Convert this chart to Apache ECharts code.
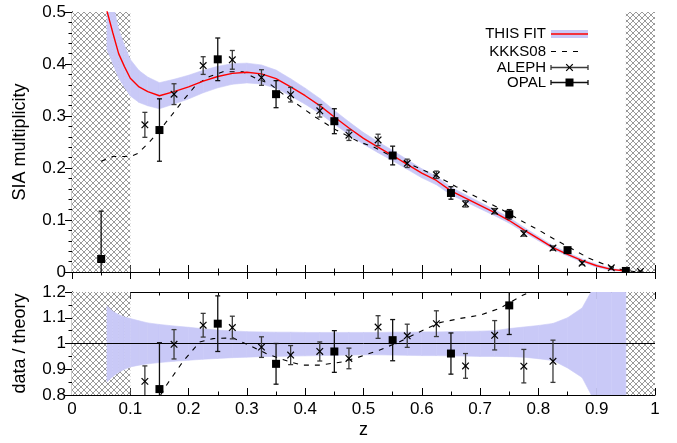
<!DOCTYPE html>
<html><head><meta charset="utf-8">
<script src="https://cdn.jsdelivr.net/npm/echarts@6/dist/echarts.min.js"></script>
<style>html,body{margin:0;padding:0;background:#fff}#c{width:677px;height:443px}</style>
</head><body><div id="c"></div>
<script>
// ---- data ----
const xTicks = [0,0.1,0.2,0.3,0.4,0.5,0.6,0.7,0.8,0.9,1];
const yTicksTop = [0,0.1,0.2,0.3,0.4,0.5];
const yTicksBottom = [0.8,0.9,1,1.1,1.2];
const hatchRanges = [[0,0.1],[0.95,1]];

const fitZ = [0.06,0.07,0.08,0.09,0.1,0.115,0.13,0.15,0.175,0.2,0.225,0.25,0.275,0.3,0.325,0.35,0.375,0.4,0.425,0.45,0.475,0.5,0.525,0.55,0.575,0.6,0.625,0.65,0.675,0.7,0.725,0.75,0.775,0.8,0.825,0.85,0.875,0.9,0.925,0.95];
const fitVal = [0.502,0.46,0.42,0.395,0.3725,0.356,0.347,0.339,0.347,0.356,0.367,0.376,0.382,0.384,0.381,0.372,0.356,0.339,0.32,0.298,0.277,0.257,0.24,0.224,0.207,0.19,0.176,0.156,0.142,0.128,0.114,0.099,0.081,0.064,0.047,0.034,0.022,0.012,0.005,0.002];
const bandLo = [0.851,0.872,0.888,0.9,0.909,0.916,0.921,0.926,0.931,0.935,0.939,0.942,0.945,0.947,0.949,0.95,0.951,0.952,0.953,0.954,0.955,0.956,0.956,0.955,0.954,0.953,0.953,0.952,0.951,0.95,0.95,0.949,0.947,0.941,0.934,0.905,0.868,0.76,0.6,0.5];
const bandHi = [1.146,1.125,1.112,1.103,1.097,1.088,1.08,1.074,1.068,1.063,1.057,1.052,1.049,1.046,1.045,1.044,1.044,1.043,1.043,1.043,1.043,1.043,1.043,1.044,1.044,1.045,1.045,1.046,1.047,1.048,1.05,1.058,1.064,1.07,1.078,1.1,1.138,1.24,1.4,1.5];

const kkksZ = [0.05,0.07,0.1,0.113,0.133,0.15,0.167,0.19,0.213,0.236,0.259,0.293,0.316,0.339,0.37,0.396,0.416,0.453,0.493,0.516,0.539,0.596,0.63,0.659,0.687,0.716,0.744,0.773,0.8,0.83,0.859,0.887,0.916,0.944,0.97];
const kkksVal = [0.213,0.222,0.222,0.228,0.25,0.272,0.296,0.329,0.36,0.376,0.385,0.385,0.372,0.362,0.335,0.315,0.299,0.273,0.25,0.241,0.228,0.199,0.182,0.164,0.148,0.132,0.116,0.097,0.081,0.0615,0.0436,0.0263,0.0135,0.004,0.0];
const kkksRatioZ = [0.152,0.162,0.19,0.219,0.242,0.276,0.304,0.333,0.373,0.396,0.424,0.465,0.493,0.527,0.561,0.596,0.631,0.665,0.7,0.733,0.773,0.785];
const kkksRatio = [0.80,0.838,0.929,1.006,1.019,1.022,0.993,0.961,0.929,0.916,0.916,0.929,0.948,0.974,1.006,1.045,1.081,1.097,1.11,1.136,1.187,1.2];

const alephZ = [0.125,0.175,0.225,0.275,0.325,0.375,0.425,0.475,0.525,0.575,0.625,0.675,0.725,0.775,0.825,0.875,0.925,0.975];
const alephVal = [0.283,0.342,0.397,0.408,0.374,0.341,0.31,0.263,0.254,0.209,0.187,0.131,0.117,0.074,0.046,0.017,0.008,0.001];
const alephErr = [0.024,0.02,0.017,0.018,0.015,0.014,0.012,0.01,0.011,0.008,0.007,0.006,0.005,0.005,0.004,0.003,0.002,0.001];
const opalZ = [0.05,0.15,0.25,0.35,0.45,0.55,0.65,0.75,0.85,0.95];
const opalVal = [0.025,0.273,0.409,0.342,0.29,0.224,0.152,0.111,0.042,0.002];
const opalErr = [0.092,0.06,0.041,0.026,0.024,0.018,0.012,0.009,0.005,0.002];

const alephRatioZ = [0.125,0.175,0.225,0.275,0.325,0.375,0.425,0.475,0.525,0.575,0.625,0.675,0.725,0.775,0.825];
const alephRatio = [0.853,0.997,1.071,1.062,0.986,0.955,0.969,0.942,1.064,1.03,1.077,0.913,1.032,0.912,0.931];
const alephRatioErr = [0.06,0.057,0.046,0.044,0.04,0.037,0.037,0.04,0.044,0.045,0.05,0.048,0.057,0.065,0.082];
const opalRatioZ = [0.15,0.25,0.35,0.45,0.55,0.65,0.75];
const opalRatio = [0.823,1.077,0.921,0.969,1.013,0.961,1.148];
const opalRatioErr = [0.18,0.108,0.079,0.081,0.08,0.08,0.113];

const legendNames = ['THIS FIT','KKKS08','ALEPH','OPAL'];

// ---- styles ----
const FONT = '"Liberation Sans", Arial, Helvetica, sans-serif';
const BAND = '#c9c9f7';
function hatchCanvas(){
  const s=6, c=document.createElement('canvas'); c.width=s; c.height=s;
  const g=c.getContext('2d'); g.fillStyle='#fff'; g.fillRect(0,0,s,s);
  g.fillStyle='#9a9a9a';
  for(let i=0;i<s;i++){ g.fillRect(i,i,1,1); g.fillRect(s-1-i,i,1,1); }
  return c;
}
const hatchPattern = {image: hatchCanvas(), repeat:'repeat'};

function pairs(xs, ys){ return xs.map((x,i)=>[x, ys[i]]); }
function triples(xs, ys, es){ return xs.map((x,i)=>[x, ys[i], es[i]]); }
// band segments: [z0, lo0, hi0, z1, lo1, hi1]
function bandSegments(scale){
  const out=[];
  for(let i=0;i<fitZ.length-1;i++){
    const s0=scale?fitVal[i]:1, s1=scale?fitVal[i+1]:1;
    out.push([fitZ[i], s0*bandLo[i], s0*bandHi[i], fitZ[i+1], s1*bandLo[i+1], s1*bandHi[i+1]]);
  }
  return out;
}
function bandRender(params, api){
  const a=api.coord([api.value(0), api.value(1)]), b=api.coord([api.value(0), api.value(2)]);
  const c=api.coord([api.value(3), api.value(5)]), d=api.coord([api.value(3), api.value(4)]);
  return {type:'polygon', shape:{points:[a,b,c,d]}, style:{fill:BAND, stroke:BAND, lineWidth:0.6}};
}

function errRender(kind){
  return function(params, api){
    const x=api.value(0), y=api.value(1), e=api.value(2);
    const p=api.coord([x,y]), lo=api.coord([x,y-e]), hi=api.coord([x,y+e]);
    const st={stroke: kind==='x' ? '#3a3a3a' : '#111', lineWidth:1.3};
    const cw=2.5;
    const ch=[
      {type:'line', shape:{x1:p[0],y1:lo[1],x2:p[0],y2:hi[1]}, style:st},
      {type:'line', shape:{x1:p[0]-cw,y1:lo[1],x2:p[0]+cw,y2:lo[1]}, style:st},
      {type:'line', shape:{x1:p[0]-cw,y1:hi[1],x2:p[0]+cw,y2:hi[1]}, style:st}
    ];
    if(kind==='x'){
      const s=3.3, xs={stroke:'#000', lineWidth:1.2};
      ch.push({type:'line', shape:{x1:p[0]-s,y1:p[1]-s,x2:p[0]+s,y2:p[1]+s}, style:xs});
      ch.push({type:'line', shape:{x1:p[0]-s,y1:p[1]+s,x2:p[0]+s,y2:p[1]-s}, style:xs});
    } else {
      ch.push({type:'rect', shape:{x:p[0]-4,y:p[1]-4,width:8,height:8}, style:{fill:'#000'}});
    }
    return {type:'group', children:ch};
  };
}

function xAx(gi, pos, labels){
  return {type:'value', gridIndex:gi, position:pos, min:xTicks[0], max:xTicks[xTicks.length-1], interval:0.1,
    axisLine:{show:true, lineStyle:{color:'#000', width:1.2}},
    axisTick:{show:true, inside:true, length:7, lineStyle:{color:'#000'}},
    minorTick:{show:true, splitNumber:2, length:3.5, lineStyle:{color:'#000'}},
    splitLine:{show:false}, minorSplitLine:{show:false},
    axisLabel:{show:labels, color:'#000', fontSize:17, fontFamily:FONT, margin:6},
    name: labels ? 'z' : '', nameLocation:'middle', nameGap:26,
    nameTextStyle:{color:'#000', fontSize:18, fontFamily:FONT}};
}
function yAx(gi, pos, ticks, interval, minorSplit, labels, name){
  return {type:'value', gridIndex:gi, position:pos, min:ticks[0], max:ticks[ticks.length-1], interval:interval,
    axisLine:{show:true, lineStyle:{color:'#000', width:1.2}},
    axisTick:{show:true, inside:true, length:7, lineStyle:{color:'#000'}},
    minorTick:{show:true, splitNumber:minorSplit, length:3.5, lineStyle:{color:'#000'}},
    splitLine:{show:false}, minorSplitLine:{show:false},
    axisLabel:{show:labels, color:'#000', fontSize:17, fontFamily:FONT, margin:6},
    name: labels ? name : '', nameLocation:'middle', nameGap:43, nameRotate:90,
    nameTextStyle:{color:'#000', fontSize:18, fontFamily:FONT}};
}

function hatchArea(){
  return {silent:true, itemStyle:{color:hatchPattern, opacity:1, borderWidth:0},
    data: hatchRanges.map(r=>[{xAxis:r[0]},{xAxis:r[1]}])};
}
const bandEncode = {x:[0,3], y:[1,2,4,5]};

const series = [
  // top panel
  {type:'line', xAxisIndex:0, yAxisIndex:0, data:[], z:1, markArea:hatchArea(), silent:true},
  {type:'custom', xAxisIndex:0, yAxisIndex:0, data:bandSegments(true), encode:bandEncode, renderItem:bandRender, clip:true, z:2, silent:true},
  {name:legendNames[0], type:'line', xAxisIndex:0, yAxisIndex:0, data:pairs(fitZ, fitVal), symbol:'none', lineStyle:{color:'#ff0000', width:1.4}, z:5},
  {name:legendNames[1], type:'line', xAxisIndex:0, yAxisIndex:0, data:pairs(kkksZ, kkksVal), symbol:'none', lineStyle:{color:'#000', width:1.1, type:[5,6]}, z:4},
  {name:legendNames[2], type:'custom', xAxisIndex:0, yAxisIndex:0, data:triples(alephZ, alephVal, alephErr), renderItem:errRender('x'), clip:true, z:6},
  {name:legendNames[3], type:'custom', xAxisIndex:0, yAxisIndex:0, data:triples(opalZ, opalVal, opalErr), renderItem:errRender('s'), clip:true, z:6},
  // bottom panel
  {type:'line', xAxisIndex:2, yAxisIndex:2, data:[], z:1, markArea:hatchArea(), silent:true},
  {type:'custom', xAxisIndex:2, yAxisIndex:2, data:bandSegments(false), encode:bandEncode, renderItem:bandRender, clip:true, z:2, silent:true},
  {type:'line', xAxisIndex:2, yAxisIndex:2, data:[[0,1],[1,1]], symbol:'none', lineStyle:{color:'#000', width:1}, z:3, silent:true},
  {type:'line', xAxisIndex:2, yAxisIndex:2, data:pairs(kkksRatioZ, kkksRatio), symbol:'none', lineStyle:{color:'#000', width:1.1, type:[5,6]}, z:4},
  {type:'custom', xAxisIndex:2, yAxisIndex:2, data:triples(alephRatioZ, alephRatio, alephRatioErr), renderItem:errRender('x'), clip:true, z:6},
  {type:'custom', xAxisIndex:2, yAxisIndex:2, data:triples(opalRatioZ, opalRatio, opalRatioErr), renderItem:errRender('s'), clip:true, z:6}
];

// legend drawn as graphic elements
const LX = 546, IX0 = 551, IX1 = 588, rows = [34, 51.5, 67.5, 82.5];
const tfont = '15px ' + FONT;
function txt(t, y){ return {type:'text', z:100, style:{text:t, x:LX, y:y, font:tfont, fill:'#000', align:'right', textAlign:'right', verticalAlign:'middle', textVerticalAlign:'middle'}}; }
function ln(x1,y1,x2,y2,stroke,w,dash){ return {type:'line', z:100, shape:{x1,y1,x2,y2}, style:{stroke, lineWidth:w, lineDash:dash||null}}; }
const mid = (IX0+IX1)/2;
const graphic = [
  {type:'rect', z:99, shape:{x:IX0, y:rows[0]-4, width:IX1-IX0, height:8}, style:{fill:BAND}},
  ln(IX0, rows[0], IX1, rows[0], '#ff0000', 1.4),
  txt(legendNames[0], rows[0]),
  ln(IX0, rows[1], IX1-5, rows[1], '#000', 1.1, [5,6]),
  txt(legendNames[1], rows[1]),
  ln(IX0, rows[2], IX1, rows[2], '#3a3a3a', 1.3),
  ln(IX0, rows[2]-2.5, IX0, rows[2]+2.5, '#3a3a3a', 1.3),
  ln(IX1, rows[2]-2.5, IX1, rows[2]+2.5, '#3a3a3a', 1.3),
  ln(mid-3.3, rows[2]-3.3, mid+3.3, rows[2]+3.3, '#000', 1.2),
  ln(mid-3.3, rows[2]+3.3, mid+3.3, rows[2]-3.3, '#000', 1.2),
  txt(legendNames[2], rows[2]),
  ln(IX0, rows[3], IX1, rows[3], '#111', 1.3),
  ln(IX0, rows[3]-2.5, IX0, rows[3]+2.5, '#111', 1.3),
  ln(IX1, rows[3]-2.5, IX1, rows[3]+2.5, '#111', 1.3),
  {type:'rect', z:100, shape:{x:mid-4, y:rows[3]-4, width:8, height:8}, style:{fill:'#000'}},
  txt(legendNames[3], rows[3])
];

const chart = echarts.init(document.getElementById('c'), null, {renderer:'canvas'});
chart.setOption({
  animation:false,
  backgroundColor:'#fff',
  grid:[{left:72, top:12, width:583, height:260}, {left:72, top:292, width:583, height:103}],
  xAxis:[xAx(0,'bottom',false), xAx(0,'top',false), xAx(1,'bottom',true), xAx(1,'top',false)],
  yAxis:[yAx(0,'left',yTicksTop,0.1,5,true,'SIA multiplicity'), yAx(0,'right',yTicksTop,0.1,5,false,''),
         yAx(1,'left',yTicksBottom,0.1,2,true,'data / theory'), yAx(1,'right',yTicksBottom,0.1,2,false,'')],
  series: series,
  graphic: graphic
});
</script></body></html>
